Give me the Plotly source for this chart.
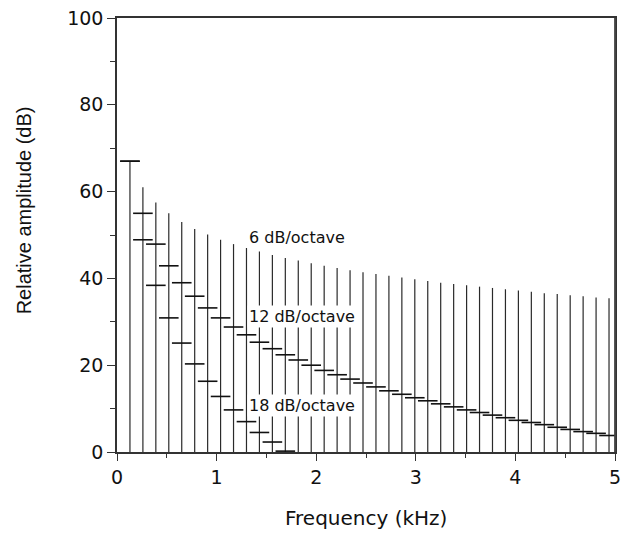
import plotly.graph_objects as go

# Harmonic frequencies (kHz)
freqs = [0.13, 0.26, 0.39, 0.52, 0.65, 0.78, 0.91, 1.04, 1.17, 1.30,
         1.43, 1.56, 1.69, 1.82, 1.95, 2.08, 2.21, 2.34, 2.47, 2.60,
         2.73, 2.86, 2.99, 3.12, 3.25, 3.38, 3.51, 3.64, 3.77, 3.90,
         4.03, 4.16, 4.29, 4.42, 4.55, 4.68, 4.81, 4.94]

# 6 dB/octave spectrum (line heights, dB)
amp_6db = [67.0, 61.0, 57.5, 55.0, 53.0, 51.4, 50.1, 48.9, 47.9, 47.0,
           46.2, 45.4, 44.7, 44.1, 43.5, 42.9, 42.4, 41.9, 41.4, 41.0,
           40.6, 40.2, 39.8, 39.4, 39.0, 38.7, 38.4, 38.1, 37.8, 37.5,
           37.2, 36.9, 36.6, 36.4, 36.1, 35.9, 35.6, 35.4]

# 12 dB/octave marks (dB)
amp_12db = [67.0, 55.0, 47.9, 42.9, 39.0, 35.9, 33.2, 30.9, 28.8, 27.0,
            25.3, 23.8, 22.4, 21.2, 20.0, 18.8, 17.8, 16.8, 15.9, 15.0,
            14.1, 13.3, 12.5, 11.8, 11.1, 10.4, 9.7, 9.1, 8.5, 7.9,
            7.3, 6.8, 6.3, 5.7, 5.2, 4.7, 4.3, 3.8]

# 18 dB/octave marks (dB), first 13 harmonics
amp_18db = [67.0, 48.9, 38.4, 30.9, 25.1, 20.3, 16.3, 12.8, 9.7, 7.0,
            4.5, 2.3, 0.2]

x_ticks = [0, 1, 2, 3, 4, 5]
y_ticks = [0, 20, 40, 60, 80, 100]

labels = ["6 dB/octave", "12 dB/octave", "18 dB/octave"]
label_x = [1.31, 1.31, 1.31]
label_y = [49.5, 31.2, 10.8]

# build vertical segments from data
seg_x, seg_y = [], []
for f, a in zip(freqs, amp_6db):
    seg_x += [f, f, None]
    seg_y += [0, a, None]

fig = go.Figure()
fig.add_trace(go.Scatter(x=seg_x, y=seg_y, mode="lines",
                         line=dict(color="#2a2a2a", width=1.2),
                         hoverinfo="skip", showlegend=False))
fig.add_trace(go.Scatter(x=freqs[:len(amp_12db)], y=amp_12db, mode="markers",
                         marker=dict(symbol="line-ew", size=14,
                                     line=dict(color="#111111", width=1.6)),
                         showlegend=False))
fig.add_trace(go.Scatter(x=freqs[:len(amp_18db)], y=amp_18db, mode="markers",
                         marker=dict(symbol="line-ew", size=14,
                                     line=dict(color="#111111", width=1.6)),
                         showlegend=False))

annotations = []
for t, ax_, ay_ in zip(labels, label_x, label_y):
    annotations.append(dict(x=ax_, y=ay_, xref="x", yref="y", text=t,
                            showarrow=False, xanchor="left", yanchor="middle",
                            bgcolor="white", borderpad=1,
                            font=dict(family="DejaVu Sans", size=16, color="#111")))
annotations.append(dict(x=-0.186, y=0.5576, xref="paper", yref="paper",
                        text="Relative amplitude (dB)", textangle=-90,
                        showarrow=False, xanchor="center", yanchor="middle",
                        font=dict(family="Liberation Sans", size=20, color="#111")))
annotations.append(dict(x=0.5, y=-0.152, xref="paper", yref="paper",
                        text="Frequency (kHz)",
                        showarrow=False, xanchor="center", yanchor="middle",
                        font=dict(family="DejaVu Sans", size=20, color="#111")))

fig.update_layout(
    width=625, height=535,
    margin=dict(l=117, r=10, t=18, b=83),
    paper_bgcolor="white", plot_bgcolor="white",
    annotations=annotations,
    shapes=[dict(type="line", xref="paper", yref="paper", x0=1, x1=1, y0=0, y1=1,
                 line=dict(color="#444", width=1.8), layer="above")],
    xaxis=dict(range=[0, 5], tickvals=x_ticks, ticks="outside", ticklen=7,
               tickwidth=1.3, tickcolor="#333", automargin=False,
               ticklabeloverflow="allow",
               showline=True, linecolor="#333", linewidth=1.6, mirror=True,
               showgrid=False, zeroline=False,
               minor=dict(dtick=0.5, ticks="outside", ticklen=4, tickcolor="#333", tickwidth=1.3),
               tickfont=dict(family="DejaVu Sans", size=19, color="#111")),
    yaxis=dict(range=[0, 100], tickvals=y_ticks, ticks="outside", ticklen=8,
               tickwidth=1.3, tickcolor="#333", automargin=False,
               ticklabeloverflow="allow",
               showline=True, linecolor="#333", linewidth=1.6, mirror=True,
               showgrid=False, zeroline=False,
               minor=dict(dtick=10, ticks="outside", ticklen=5, tickcolor="#333", tickwidth=1.3),
               tickfont=dict(family="DejaVu Sans", size=19, color="#111")),
)

fig.write_html("out.html", config={"displayModeBar": False},
               post_script="document.body.style.margin='0';document.body.style.overflow='hidden';")
